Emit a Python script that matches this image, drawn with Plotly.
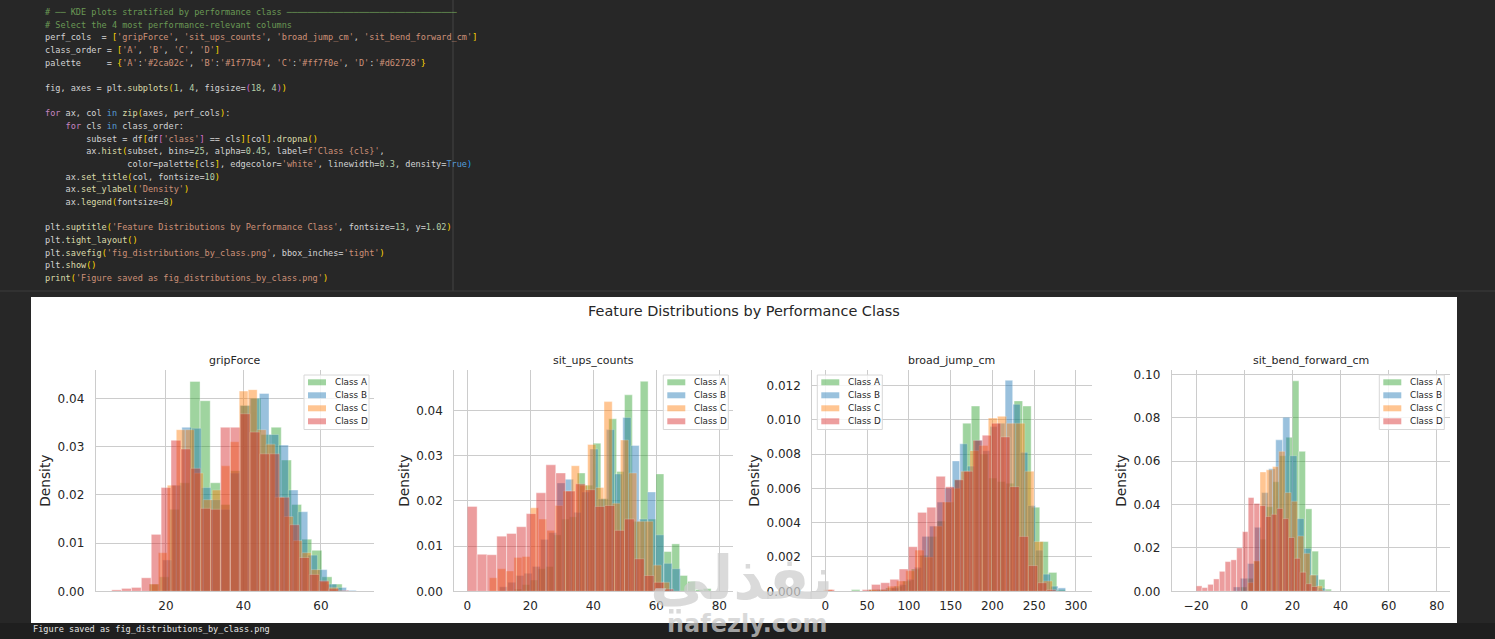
import re
import plotly.graph_objects as go
from plotly.subplots import make_subplots

WIDTH, HEIGHT = 1495, 639

class_order = ["A", "B", "C", "D"]
palette = {"A": "#2ca02c", "B": "#1f77b4", "C": "#ff7f0e", "D": "#d62728"}
perf_cols = ["gripForce", "sit_ups_counts", "broad_jump_cm", "sit_bend_forward_cm"]

# bin start / bin width per class, then bar heights
grip_bins = {"A": (15.7, 2.62), "B": (19.1, 2.5), "C": (15.7, 2.32), "D": (6.0, 2.55)}
grip_a = [.0015, .003, .017, .0225, .0435, .0395, .0225, .018, .025, .0385, .040, .0325, .034, .0272, .018, .0108, .0085, .003, .0015]
grip_b = [.0065, .022, .034, .0338, .0215, .019, .017, .0245, .0385, .040, .041, .0325, .0303, .021, .0165, .0075, .0045, .0015, .0008, .0002]
grip_c = [.0015, .008, .022, .0335, .0335, .0245, .019, .021, .026, .031, .0415, .0418, .0335, .0305, .0195, .0155, .0105, .008, .0045, .002, .0008]
grip_d = [.0003, .0006, .0008, .0028, .0118, .0215, .0313, .0295, .0255, .0172, .017, .034, .034, .0368, .033, .0285, .0285, .0195, .0138, .007, .0035, .0022, .0005, .0002]

situps_bins = {"A": (14.9, 2.5), "B": (10.2, 2.61), "C": (7.0, 2.6), "D": (0.0, 3.12)}
situps_a = [.0005, .0015, .0025, .005, .0055, .0125, .016, .0165, .0262, .0235, .0328, .0205, .0382, .0265, .0435, .0155, .0465, .016, .026, .0088, .0105, .0035, .0022, .0004, .0006]
situps_b = [.001, .002, .0035, .004, .0055, .0115, .013, .024, .0248, .0175, .022, .0315, .0205, .0358, .026, .0385, .0323, .016, .022, .0125, .0062, .005]
situps_c = [.003, .005, .0045, .0075, .0077, .0185, .016, .0135, .019, .0222, .0278, .0235, .0325, .023, .042, .0195, .0335, .0262, .0155, .0155, .0058, .002]
situps_d = [.0188, .0082, .0081, .0122, .0128, .0143, .0172, .0218, .028, .0262, .0222, .0238, .0225, .0188, .019, .0135, .016, .0072, .0035, .002, .0005]

jump_bins = {"A": (31.2, 10.25), "B": (61.4, 9.05), "C": (-2.4, 10.97), "D": (0.0, 11.05)}
jump_a = [.0001, 0, .0001, .0001, .0002, .0003, .0006, .0013, .0021, .0032, .0041, .0052, .0065, .0098, .0108, .0080, .0066, .0064, .0063, .0111, .0108, .0049, .0029, .0011, .0001]
jump_b = [.0001, .0001, .0002, .0004, .0007, .0014, .0032, .0038, .0052, .0060, .0076, .0086, .0073, .0088, .0082, .0096, .0098, .0123, .0109, .0081, .005, .0024, .0010, .0003, .0002]
jump_c = [.0001, 0, 0, 0, 0, .0001, .0001, .0003, .0006, .0012, .0024, .0020, .0038, .0052, .0060, .0070, .0082, .0085, .0101, .0102, .0098, .0098, .0070, .0029, .0006]
jump_d = [.0001, 0, 0, 0, .0001, .0004, .0005, .0007, .0013, .0026, .0046, .0049, .0067, .0061, .0065, .0070, .0088, .0091, .0098, .0090, .0061, .0032, .0015, .0005, .0001]

bend_bins = {"A": (-1.6, 2.7), "B": (-4.6, 2.94), "C": (1.3, 2.6), "D": (-20.0, 2.4)}
bend_a = [.002, .006, .014, .024, .039, .0505, .0625, .071, .097, .0645, .038, .0185, .0055, .001]
bend_b = [.002, .006, .0128, .0295, .0455, .0565, .0698, .0802, .0625, .0335, .0198, .0075, .0015]
bend_c = [.004, .014, .055, .056, .0575, .0645, .0455, .0415, .0255, .0175, .0075, .0025]
bend_d = [.0025, .0017, .0032, .0057, .0092, .0137, .0145, .02, .0275, .0432, .0405, .0395, .0345, .0355, .0382, .0335, .0248, .0152, .0088, .0035, .0022, .0005, .0002, 0, .0001]

panels = [
    dict(bins=grip_bins, heights=[grip_a, grip_b, grip_c, grip_d], xpx=(95.7, 374), ypx=(370, 591.3),
         xrange=(1.86, 73.7), ymax=.04587, xticks=[20, 40, 60], yticks=[0, .01, .02, .03, .04], fmt=".2f", legend_x=304),
    dict(bins=situps_bins, heights=[situps_a, situps_b, situps_c, situps_d], xpx=(454.3, 732.7), ypx=(370, 591.3),
         xrange=(-4.13, 84.25), ymax=.0490, xticks=[0, 20, 40, 60, 80], yticks=[0, .01, .02, .03, .04], fmt=".2f", legend_x=663.3),
    dict(bins=jump_bins, heights=[jump_a, jump_b, jump_c, jump_d], xpx=(812.3, 1091.7), ypx=(370, 591.3),
         xrange=(-15.6, 318.9), ymax=.0129, xticks=[0, 50, 100, 150, 200, 250, 300],
         yticks=[0, .002, .004, .006, .008, .010, .012], fmt=".3f", legend_x=817.3),
    dict(bins=bend_bins, heights=[bend_a, bend_b, bend_c, bend_d], xpx=(1171.7, 1450), ypx=(370, 591.3),
         xrange=(-30.2, 85.5), ymax=.102, xticks=[-20, 0, 20, 40, 60, 80], yticks=[0, .02, .04, .06, .08, .10], fmt=".2f", legend_x=1379.3),
]

code_lines = [
    "# ── KDE plots stratified by performance class " + "─" * 33,
    "# Select the 4 most performance-relevant columns",
    "perf_cols  = ['gripForce', 'sit_ups_counts', 'broad_jump_cm', 'sit_bend_forward_cm']",
    "class_order = ['A', 'B', 'C', 'D']",
    "palette     = {'A':'#2ca02c', 'B':'#1f77b4', 'C':'#ff7f0e', 'D':'#d62728'}",
    "",
    "fig, axes = plt.subplots(1, 4, figsize=(18, 4))",
    "",
    "for ax, col in zip(axes, perf_cols):",
    "    for cls in class_order:",
    "        subset = df[df['class'] == cls][col].dropna()",
    "        ax.hist(subset, bins=25, alpha=0.45, label=f'Class {cls}',",
    "                color=palette[cls], edgecolor='white', linewidth=0.3, density=True)",
    "    ax.set_title(col, fontsize=10)",
    "    ax.set_ylabel('Density')",
    "    ax.legend(fontsize=8)",
    "",
    "plt.suptitle('Feature Distributions by Performance Class', fontsize=13, y=1.02)",
    "plt.tight_layout()",
    "plt.savefig('fig_distributions_by_class.png', bbox_inches='tight')",
    "plt.show()",
    "print('Figure saved as fig_distributions_by_class.png')",
]

TOKENS = re.compile(r"(#.*$)|(f?'[^']*')|(\b(?:for|in)\b)|(\bTrue\b)|(\b\d+\.?\d*\b)|([\[\](){}])|(\b\w+(?=\())")


def px_x(x):
    return x / WIDTH


def px_y(y):
    return 1 - y / HEIGHT


def colorize(line):
    # rough VS Code dark theme
    out, pos, depth = [], 0, 0
    for m in TOKENS.finditer(line):
        out.append(line[pos:m.start()])
        tok = m.group(0)
        if m.group(1):
            col = "#6a9955"
        elif m.group(2):
            col = "#ce9178"
        elif m.group(3):
            col = "#c586c0" if tok == "for" else "#569cd6"
        elif m.group(4):
            col = "#569cd6"
        elif m.group(5):
            col = "#b5cea8"
        elif m.group(6):
            if tok in "([{":
                col = ["#ffd700", "#da70d6", "#179fff"][depth % 3]
                depth += 1
            else:
                depth -= 1
                col = ["#ffd700", "#da70d6", "#179fff"][depth % 3]
        else:
            col = "#dcdcaa"
        out.append(f'<span style="color:{col}">{tok}</span>')
        pos = m.end()
    out.append(line[pos:])
    return "".join(out)


fig = make_subplots(rows=1, cols=4)
shapes = [
    dict(type="rect", xref="paper", yref="paper", x0=0, x1=1, y0=0, y1=px_y(623), fillcolor="#1f1f1f", line_width=0, layer="below"),
    dict(type="rect", xref="paper", yref="paper", x0=px_x(31), x1=px_x(1457), y0=px_y(623), y1=px_y(297), fillcolor="white", line_width=0, layer="below"),
    dict(type="line", xref="paper", yref="paper", x0=px_x(453), x1=px_x(453), y0=px_y(291), y1=1, line=dict(color="#444444", width=1), layer="below"),
    dict(type="line", xref="paper", yref="paper", x0=0, x1=1, y0=px_y(291), y1=px_y(291), line=dict(color="#3c3c3c", width=1), layer="below"),
]
annotations = []


def add_text(text, x, y, size, color="#262626", anchor="center", family="DejaVu Sans"):
    annotations.append(dict(text=text, x=px_x(x), y=px_y(y), xref="paper", yref="paper", showarrow=False,
                            xanchor=anchor, yanchor="middle", font=dict(size=size, color=color, family=family)))


for i, (p, name) in enumerate(zip(panels, perf_cols)):
    col = i + 1
    for cls, h in zip(class_order, p["heights"]):
        start, width = p["bins"][cls]
        fig.add_trace(
            go.Bar(x=[start + width * k for k in range(len(h))], y=h, width=width, offset=0,
                   marker=dict(color=palette[cls], line=dict(color="white", width=0.4)),
                   opacity=0.45, name=f"Class {cls}", showlegend=False),
            row=1, col=col,
        )
    fig.update_xaxes(domain=[px_x(p["xpx"][0]), px_x(p["xpx"][1])], range=p["xrange"], tickvals=p["xticks"],
                     gridcolor="#cccccc", gridwidth=1, showline=True, linecolor="#cccccc", zeroline=False,
                     ticks="", ticklabelstandoff=3, tickfont=dict(size=12, color="#262626"), row=1, col=col)
    fig.update_yaxes(domain=[px_y(p["ypx"][1]), px_y(p["ypx"][0])], range=(0, p["ymax"]), tickvals=p["yticks"],
                     tickformat=p["fmt"], gridcolor="#cccccc", gridwidth=1, showline=True, linecolor="#cccccc",
                     zeroline=False, ticks="", ticklabelstandoff=8, tickfont=dict(size=12, color="#262626"),
                     title=dict(text="Density", font=dict(size=13.7, color="#262626"), standoff=3), row=1, col=col)
    add_text(name, (p["xpx"][0] + p["xpx"][1]) / 2, 360, 11)

    # legend box drawn by hand, plotly's own keys are square and wider
    lx = p["legend_x"]
    shapes.append(dict(type="rect", xref="paper", yref="paper", x0=px_x(lx), x1=px_x(lx + 65), y0=px_y(429.5), y1=px_y(375),
                       fillcolor="rgba(255,255,255,0.8)", line=dict(color="#d8d8d8", width=1)))
    for k, cls in enumerate(class_order):
        ky = 382.3 + 13 * k
        shapes.append(dict(type="rect", xref="paper", yref="paper", x0=px_x(lx + 4), x1=px_x(lx + 22), y0=px_y(ky + 3), y1=px_y(ky - 3),
                           fillcolor=palette[cls], opacity=0.45, line_width=0))
        add_text(f"Class {cls}", lx + 29, ky, 8.8, anchor="left")

add_text("Feature Distributions by Performance Class", 744, 311, 14.45)

for n, line in enumerate(code_lines):
    if line:
        add_text(colorize(line), 43, 12 + n * 12.66, 8.55, color="#d4d4d4", anchor="left", family="DejaVu Sans Mono")
add_text("Figure saved as fig_distributions_by_class.png", 31, 629, 8.55, color="#e6e6e6", anchor="left", family="DejaVu Sans Mono")

# watermark across the bottom
add_text("<b>نفذلي</b>", 742, 578, 60, color="rgba(205,205,205,0.75)")
add_text("<b>nafezly.com</b>", 747, 624, 24, color="rgba(205,205,205,0.75)")

fig.update_layout(
    width=WIDTH, height=HEIGHT, margin=dict(l=0, r=0, t=0, b=0, autoexpand=False),
    paper_bgcolor="#272727", plot_bgcolor="rgba(0,0,0,0)", barmode="overlay", showlegend=False,
    font=dict(family="DejaVu Sans"), shapes=shapes, annotations=annotations,
)
# the page has a default 8px body margin, drop it so pixels line up
fig.write_html("out.html", config={"displayModeBar": False},
               post_script="document.body.style.margin='0';document.body.style.overflow='hidden';")
